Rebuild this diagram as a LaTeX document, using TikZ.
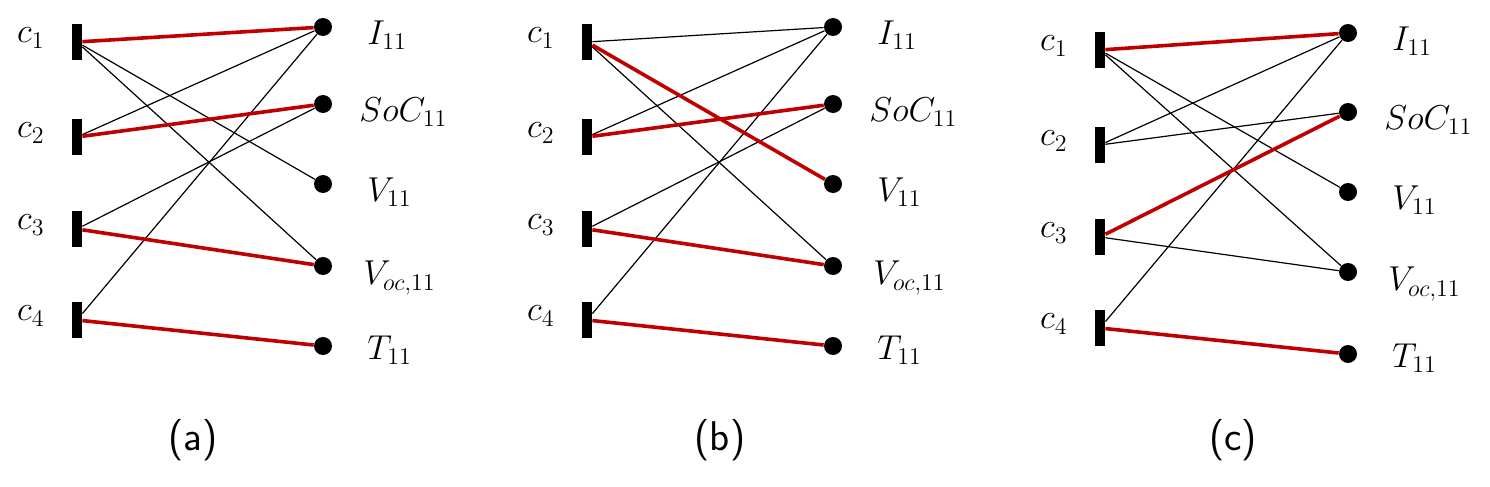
\documentclass[tikz,border=0pt]{standalone}
\usepackage{tikz}
\usetikzlibrary{positioning}
\definecolor{darkred}{RGB}{192,0,0}

\begin{document}
\begin{tikzpicture}[x=0.5pt,y=-0.5pt,
                    cell/.style={fill=black,minimum width=5pt,minimum height=18pt,inner sep=0pt},
                    meas/.style={circle,fill=black,minimum size=9pt,inner sep=0pt},
                    thin link/.style={black,line width=0.6pt},
                    red link/.style={darkred,line width=1.8pt},
                    caption/.style={font=\sffamily\huge}]
  \useasboundingbox (0,0) rectangle (1490,487);

  % panel (a)
  \begin{scope}[shift={(0,0)}]
    \node[cell] (a1) at (77,42) {};
    \node[cell] (a2) at (77,137) {};
    \node[cell] (a3) at (77,229) {};
    \node[cell] (a4) at (77,320) {};
    \foreach \i in {1,...,4} \node[left=10pt of a\i,font=\LARGE,yshift=2pt] {$c_{\i}$};
    \node[meas] (aI) at (323,27) {};
    \node[meas] (aS) at (323,104) {};
    \node[meas] (aV) at (323,184) {};
    \node[meas] (aO) at (323,266) {};
    \node[meas] (aT) at (323,346) {};
    \node[right=14pt of aI,font=\LARGE,yshift=-4pt] {$I_{11}$};
    \node[right=10pt of aS,font=\LARGE,yshift=-4pt] {$SoC_{11}$};
    \node[right=14pt of aV,font=\LARGE,yshift=-4pt] {$V_{11}$};
    \node[right=12pt of aO,font=\LARGE,yshift=-6pt] {$V_{oc,11}$};
    \node[right=14pt of aT,font=\LARGE,yshift=-2pt] {$T_{11}$};
    \path[thin link] (a1) edge (aV) edge (aO) (a2) edge (aI) (a3) edge (aS) (a4) edge (aI);
    \path[red link] (a1) edge (aI) (a2) edge (aS) (a3) edge (aO) (a4) edge (aT);
    \node[caption] (capa) at (193,440) {(a)};
  \end{scope}

  % panel (b)
  \begin{scope}[shift={(0,0)}]
    \node[cell] (b1) at (587,42) {};
    \node[cell] (b2) at (587,137) {};
    \node[cell] (b3) at (587,229) {};
    \node[cell] (b4) at (587,320) {};
    \foreach \i in {1,...,4} \node[left=10pt of b\i,font=\LARGE,yshift=2pt] {$c_{\i}$};
    \node[meas] (bI) at (833,27) {};
    \node[meas] (bS) at (833,104) {};
    \node[meas] (bV) at (833,184) {};
    \node[meas] (bO) at (833,266) {};
    \node[meas] (bT) at (833,346) {};
    \node[right=14pt of bI,font=\LARGE,yshift=-4pt] {$I_{11}$};
    \node[right=10pt of bS,font=\LARGE,yshift=-4pt] {$SoC_{11}$};
    \node[right=14pt of bV,font=\LARGE,yshift=-4pt] {$V_{11}$};
    \node[right=12pt of bO,font=\LARGE,yshift=-6pt] {$V_{oc,11}$};
    \node[right=14pt of bT,font=\LARGE,yshift=-2pt] {$T_{11}$};
    \path[thin link] (b1) edge (bI) edge (bO) (b2) edge (bI) (b3) edge (bS) (b4) edge (bI);
    \path[red link] (b1) edge (bV) (b2) edge (bS) (b3) edge (bO) (b4) edge (bT);
    \node[caption] (capb) at (720,440) {(b)};
  \end{scope}

  % panel (c)
  \begin{scope}[shift={(0,0)}]
    \node[cell] (c1) at (1100,50) {};
    \node[cell] (c2) at (1100,145) {};
    \node[cell] (c3) at (1100,237) {};
    \node[cell] (c4) at (1100,328) {};
    \foreach \i in {1,...,4} \node[left=10pt of c\i,font=\LARGE,yshift=2pt] {$c_{\i}$};
    \node[meas] (cI) at (1348,33) {};
    \node[meas] (cS) at (1348,112) {};
    \node[meas] (cV) at (1348,192) {};
    \node[meas] (cO) at (1348,272) {};
    \node[meas] (cT) at (1348,354) {};
    \node[right=14pt of cI,font=\LARGE,yshift=-4pt] {$I_{11}$};
    \node[right=10pt of cS,font=\LARGE,yshift=-4pt] {$SoC_{11}$};
    \node[right=14pt of cV,font=\LARGE,yshift=-4pt] {$V_{11}$};
    \node[right=12pt of cO,font=\LARGE,yshift=-6pt] {$V_{oc,11}$};
    \node[right=14pt of cT,font=\LARGE,yshift=-2pt] {$T_{11}$};
    \path[thin link] (c1) edge (cV) edge (cO) (c2) edge (cI) edge (cS) (c3) edge (cO) (c4) edge (cI);
    \path[red link] (c1) edge (cI) (c3) edge (cS) (c4) edge (cT);
    \node[caption] (capc) at (1233,440) {(c)};
  \end{scope}
\end{tikzpicture}
\end{document}
